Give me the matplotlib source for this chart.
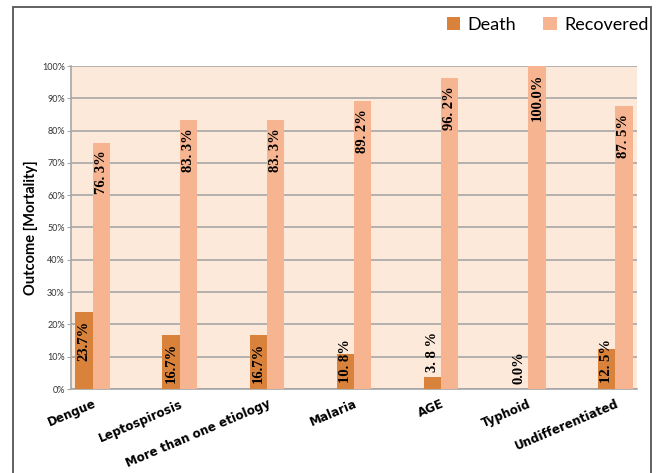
#!/usr/bin/env python3

import numpy as np
import matplotlib
matplotlib.use("Agg")
import matplotlib.pyplot as plt
from matplotlib.patches import Rectangle

categories = ["Dengue", "Leptospirosis", "More than one etiology", "Malaria",
              "AGE", "Typhoid", "Undifferentiated"]
death      = [23.7, 16.7, 16.7, 10.8, 3.8, 0.0, 12.5]
recovered  = [76.3, 83.3, 83.3, 89.2, 96.2, 100.0, 87.5]
death_txt  = ["23.7%", "16.7%", "16.7%", "10. 8%", "3. 8 %", "0.0%", "12. 5%"]
recov_txt  = ["76. 3%", "83. 3%", "83. 3%", "89. 2%", "96. 2%", "100.0%", "87. 5%"]
yticks     = np.arange(0, 101, 10)

c_death = "#D9823C"
c_recov = "#F7B491"
c_bg    = "#FCE9DA"
c_grid  = "#A6A6A6"

W, H = 659, 473
fig = plt.figure(figsize=(W/100, H/100), dpi=100)
ax = fig.add_axes([71/W, 1-389/H, (637-71)/W, (389-66)/H])
ax.set_facecolor(c_bg)

x = np.arange(len(categories))
bw = 0.2
ax.bar(x - bw/2, death, bw, color=c_death, label="Death", zorder=3)
ax.bar(x + bw/2, recovered, bw, color=c_recov, label="Recovered", zorder=3)

def put_label(xpos, v, s):
  # long bars: inside at the top; short bars: near the base
  if v >= 15:
    y, va = v - 2.5, "top"
  elif v >= 8:
    y, va = 2.0, "bottom"
  else:
    y, va = v + 1.5, "bottom"
  ax.text(xpos, y, s, rotation=90, ha="center", va=va, fontsize=10.5,
          family="Liberation Serif", weight="bold", color="black", zorder=4)

for i in range(len(categories)):
  put_label(x[i] - bw/2, death[i], death_txt[i])
  put_label(x[i] + bw/2, recovered[i], recov_txt[i])

ax.set_xlim(-0.25, 6.25)
ax.set_ylim(0, 100)
ax.set_yticks(yticks)
ax.set_yticklabels([f"{t}%" for t in yticks], family="Lato", fontsize=6.5, color="#333333")
ax.yaxis.grid(True, color=c_grid, lw=1.2, zorder=1)
ax.set_axisbelow(True)
ax.tick_params(axis="y", length=3, color=c_grid, pad=1.5)
ax.tick_params(axis="x", length=0, pad=6)
ax.set_xticks(x)
ax.set_xticklabels(categories, rotation=23, ha="right", va="top", rotation_mode="anchor",
                   family="DejaVu Sans", weight="bold", style="normal", fontsize=8.6)
for s in ["top", "right"]:
  ax.spines[s].set_visible(False)
for s in ["left", "bottom"]:
  ax.spines[s].set_color(c_grid)
  ax.spines[s].set_linewidth(1.2)

ax.set_ylabel("Outcome [Mortality]", family="Lato", weight="bold", fontsize=10.5, labelpad=3)

leg = ax.legend(loc="upper right", bbox_to_anchor=(652/W, 1-13/H), bbox_transform=fig.transFigure,
                ncol=2, frameon=False, prop={"family": "Lato", "size": 13},
                handlelength=0.75, handleheight=0.75, handletextpad=0.4, columnspacing=1.5,
                borderaxespad=0, borderpad=0.2)

# outer frame round the whole chart
fig.add_artist(Rectangle((13/W, -0.05), (651-13)/W, 1.05-7/H, transform=fig.transFigure,
                         fill=False, edgecolor="#555555", lw=1.3))

fig.savefig("out.png", dpi=100)
plt.close()
